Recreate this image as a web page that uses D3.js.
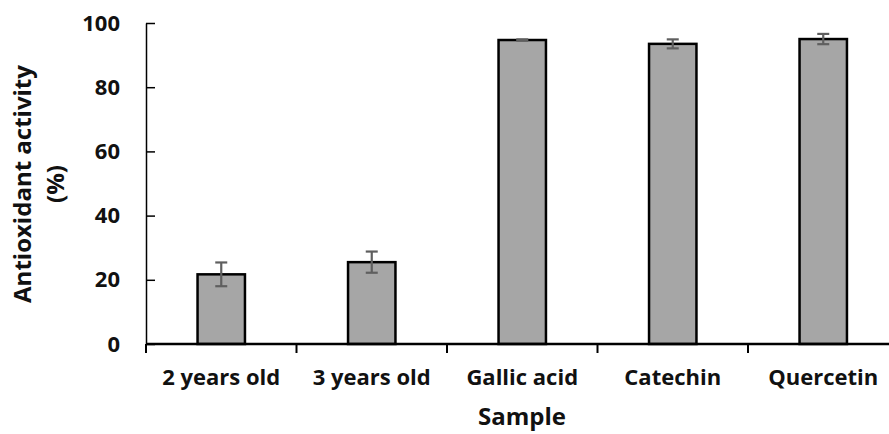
<!DOCTYPE html>
<html>
<head>
<meta charset="utf-8">
<script src="https://cdn.jsdelivr.net/npm/d3@7"></script>
<style>
  body { margin: 0; background: #fff; }
  text { font-family: "Open Sans", "Noto Sans", sans-serif; font-weight: bold; fill: #111; }
</style>
</head>
<body>
<svg class="chart" width="889" height="434"></svg>
<script>
let samples = ["2 years old", "3 years old", "Gallic acid", "Catechin", "Quercetin"];
let activity = [21.7, 25.5, 94.7, 93.5, 95.0];
let errors = [3.7, 3.3, 0.2, 1.4, 1.6];
let yTicks = [0, 20, 40, 60, 80, 100];

let svg = d3.select(".chart");

let plotLeft = 146, plotTop = 23, plotBottom = 344;
let band = 150.5;

let x = d3.scaleBand()
    .domain(samples)
    .range([plotLeft, plotLeft + band * samples.length])
    .paddingInner(0.685)
    .paddingOuter(0.3425);

let y = d3.scaleLinear()
    .domain([0, 100])
    .range([plotBottom, plotTop]);

// bars
svg.selectAll(".bar")
    .data(samples)
    .enter().append("rect")
    .attr("class", "bar")
    .attr("x", d => x(d))
    .attr("y", (d, i) => y(activity[i]))
    .attr("width", x.bandwidth())
    .attr("height", (d, i) => y(0) - y(activity[i]))
    .attr("fill", "#a6a6a6")
    .attr("stroke", "#000")
    .attr("stroke-width", 2.5);

// error bars
let err = svg.selectAll(".err")
    .data(samples)
    .enter().append("g")
    .attr("class", "err")
    .attr("stroke", "#5f5f5f")
    .attr("stroke-width", 2.2);

let cx = d => x(d) + x.bandwidth() / 2;
err.append("line")
    .attr("x1", cx).attr("x2", cx)
    .attr("y1", (d, i) => y(activity[i] + errors[i]))
    .attr("y2", (d, i) => y(activity[i] - errors[i]));
err.append("line")
    .attr("x1", d => cx(d) - 6).attr("x2", d => cx(d) + 6)
    .attr("y1", (d, i) => y(activity[i] + errors[i]))
    .attr("y2", (d, i) => y(activity[i] + errors[i]));
err.append("line")
    .attr("x1", d => cx(d) - 6).attr("x2", d => cx(d) + 6)
    .attr("y1", (d, i) => y(activity[i] - errors[i]))
    .attr("y2", (d, i) => y(activity[i] - errors[i]));

// y axis, ticks point inward
let yAxis = svg.append("g")
    .attr("transform", "translate(" + plotLeft + ",0)")
    .call(d3.axisRight(y).tickValues(yTicks).tickSize(9).tickSizeOuter(0).tickFormat(d3.format("d")));
yAxis.select(".domain").attr("stroke", "#000").attr("stroke-width", 1.5);
yAxis.selectAll(".tick line").attr("stroke", "#000").attr("stroke-width", 1.5);
yAxis.selectAll(".tick text")
    .attr("x", -26)
    .attr("text-anchor", "end")
    .attr("font-size", 22)
    .attr("fill", "#111");

// x axis, ticks at band edges
let edges = d3.range(samples.length + 1).map(i => plotLeft + i * band);
let xAxis = svg.append("g")
    .attr("transform", "translate(0," + plotBottom + ")");
xAxis.append("line")
    .attr("x1", plotLeft).attr("x2", plotLeft + band * samples.length)
    .attr("stroke", "#000").attr("stroke-width", 2.5);
xAxis.selectAll(".xt")
    .data(edges)
    .enter().append("line")
    .attr("x1", d => d).attr("x2", d => d)
    .attr("y1", 0).attr("y2", 9)
    .attr("stroke", "#000").attr("stroke-width", 2);
xAxis.selectAll(".xl")
    .data(samples)
    .enter().append("text")
    .attr("x", cx)
    .attr("y", 41)
    .attr("text-anchor", "middle")
    .attr("font-size", 22)
    .text(d => d);

// axis titles
svg.append("text")
    .attr("x", 522).attr("y", 425)
    .attr("text-anchor", "middle")
    .attr("font-size", 24)
    .text("Sample");

let yTitle = svg.append("text")
    .attr("transform", "translate(0,184)rotate(-90)")
    .attr("text-anchor", "middle")
    .attr("font-size", 24);
yTitle.append("tspan").attr("x", 0).attr("y", 31).text("Antioxidant activity");
yTitle.append("tspan").attr("x", 0).attr("y", 64).text("(%)");
</script>
</body>
</html>
